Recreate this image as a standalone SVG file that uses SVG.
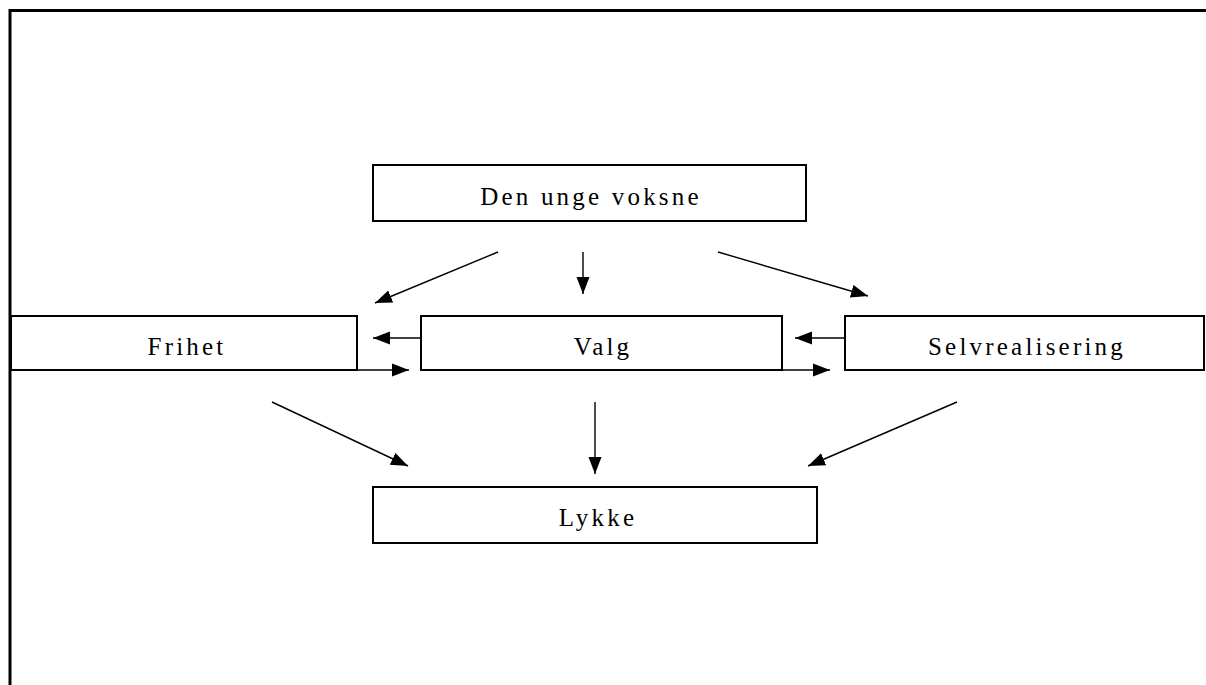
<svg xmlns="http://www.w3.org/2000/svg" width="1206" height="685" viewBox="0 0 1206 685">
<style>
.box{fill:#fff;stroke:#000;stroke-width:2}
.lbl{font-family:"Liberation Serif","Times New Roman",serif;font-size:25px;letter-spacing:3.2px;fill:#000;text-anchor:middle}
.con{stroke:#000;stroke-width:1.4;fill:none;marker-end:url(#ah)}
</style>
<defs>
<marker id="ah" markerUnits="userSpaceOnUse" markerWidth="18" markerHeight="14" refX="17" refY="6.5" orient="auto" viewBox="0 0 18 13">
<path d="M0,0 L17,6.5 L0,13 z" fill="#000"/>
</marker>
</defs>
<rect width="1206" height="685" fill="#fff"/>
<g id="frame" stroke="#000" stroke-width="3" fill="none">
<path d="M10,685 V10.5 H1206"/>
</g>
<g id="n-den"><rect class="box" x="373" y="165" width="433" height="56"/><text class="lbl" x="591" y="205">Den unge voksne</text></g>
<g id="n-frihet"><rect class="box" x="11" y="316" width="346" height="54"/><text class="lbl" x="187" y="355">Frihet</text></g>
<g id="n-valg"><rect class="box" x="421" y="316" width="361" height="54"/><text class="lbl" x="603" y="355">Valg</text></g>
<g id="n-selv"><rect class="box" x="845" y="316" width="359" height="54"/><text class="lbl" x="1027" y="355">Selvrealisering</text></g>
<g id="n-lykke"><rect class="box" x="373" y="487" width="444" height="56"/><text class="lbl" x="598" y="526">Lykke</text></g>
<g id="connectors">
<line class="con" x1="498" y1="252" x2="375" y2="303"/>
<line class="con" x1="583" y1="252" x2="583" y2="294"/>
<line class="con" x1="718" y1="252" x2="868" y2="296"/>
<line class="con" x1="421" y1="338" x2="373" y2="338"/>
<line class="con" x1="357" y1="370" x2="409" y2="370"/>
<line class="con" x1="845" y1="338" x2="795" y2="338"/>
<line class="con" x1="782" y1="370" x2="830" y2="370"/>
<line class="con" x1="272" y1="402" x2="408" y2="466"/>
<line class="con" x1="595" y1="402" x2="595" y2="474"/>
<line class="con" x1="957" y1="402" x2="808" y2="466"/>
</g>
</svg>
